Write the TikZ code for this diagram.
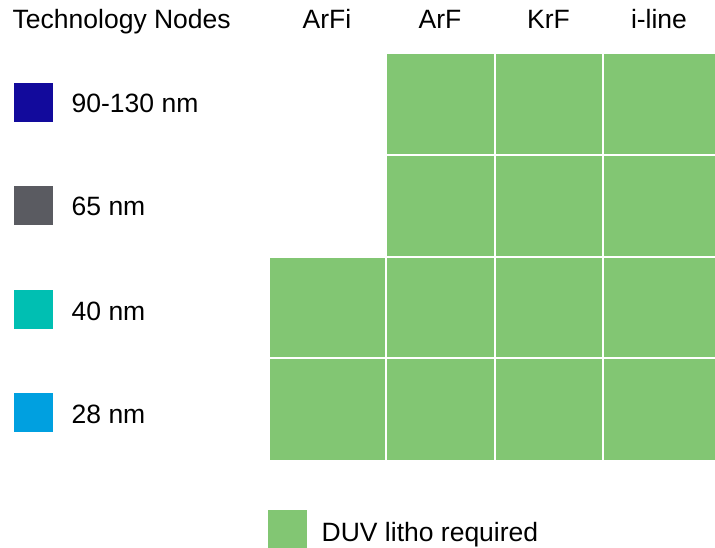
\documentclass[tikz,border=0pt]{standalone}
\usepackage{fontspec}
\setmainfont{Liberation Sans}
\definecolor{duvgreen}{HTML}{82C673}
\definecolor{nodeblue}{HTML}{120A9C}
\definecolor{nodegray}{HTML}{5A5B61}
\definecolor{nodeteal}{HTML}{00BFB2}
\definecolor{nodecyan}{HTML}{00A0E0}
\begin{document}
\begin{tikzpicture}[x=1pt,y=-1pt,
  txt/.style={font=\fontsize{26.5}{31}\selectfont, inner sep=0pt, anchor=base},
  lbl/.style={txt, anchor=base west},
  swatch/.style={fill=#1, draw=none, minimum width=39pt, minimum height=39pt, inner sep=0pt, anchor=north west},
  cell/.style={fill=duvgreen, draw=none, inner sep=0pt, anchor=north west}]
\useasboundingbox (0,0) rectangle (715,548);
% headers
\node[txt, anchor=base west] (hTN) at (12.5,29) {Technology Nodes};
\node[txt] (hArFi) at (327,29) {ArFi};
\node[txt] (hArF) at (440,29) {ArF};
\node[txt] (hKrF) at (548.5,29) {KrF};
\node[txt] (hIline) at (659,29) {i-line};
% legend swatches
\node[swatch=nodeblue] (s1) at (14,83) {};
\node[swatch=nodegray] (s2) at (14,186) {};
\node[swatch=nodeteal] (s3) at (14,290) {};
\node[swatch=nodecyan] (s4) at (14,393) {};
\node[lbl] (l1) at (71.5,113) {90-130 nm};
\node[lbl] (l2) at (71.5,216) {65 nm};
\node[lbl] (l3) at (71.5,320) {40 nm};
\node[lbl] (l4) at (71.5,423) {28 nm};
% grid cells
\foreach \c/\xa/\xb in {1/386.5/494, 2/496/601.5, 3/603.5/715}{
  \foreach \r/\ya/\yb in {1/54/153.5, 2/156/255.5, 3/257.5/357, 4/359/459.5}{
    \node[cell, minimum width={\xb-\xa}, minimum height={\yb-\ya}] (c\r\c) at (\xa,\ya) {};
  }
}
\foreach \r/\ya/\yb in {3/257.5/357, 4/359/459.5}{
  \node[cell, minimum width=114.3, minimum height={\yb-\ya}] (c\r0) at (270,\ya) {};
}
% bottom legend
\node[swatch=duvgreen] (sDUV) at (268,509.5) {};
\node[lbl] (lDUV) at (321.5,541) {DUV litho required};
\end{tikzpicture}
\end{document}
